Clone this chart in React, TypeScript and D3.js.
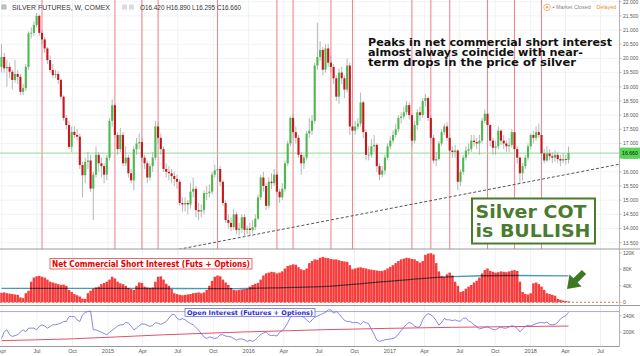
import React from "react";
import * as d3 from "d3";

// ---------- DATA ----------
const START = Date.UTC(2014, 2, 31); // first weekly candle (Mon)
const WEEK = 7 * 86400000;
const firstOpen = 19.7;

const closes = [
  20.05, 19.65, 19.7, 19.53, 19.24, 19.45, 19.35, 18.82, 18.95, 19.7,
  20.88, 20.9, 21.18, 21.5, 20.9, 20.67, 20.35, 19.94, 19.59, 19.41,
  19.45, 19.24, 18.65, 17.9, 17.65, 16.88, 17.41, 17.3, 17.24, 16.24,
  15.88, 16.35, 16.4, 15.41, 15.9, 16.6, 16.3, 16.2, 15.9, 16.5,
  17.8, 18.35, 17.3, 16.8, 17.3, 16.3, 16.5, 15.95, 15.7, 16.8,
  17.0, 17.05, 16.5, 16.3, 15.8, 16.2, 16.5, 17.6, 17.2, 16.8,
  16.1, 16.0, 15.95, 15.85, 15.75, 15.65, 14.9, 14.85, 14.9, 14.85,
  15.3, 15.4, 14.65, 14.6, 14.65, 15.25, 15.25, 15.3, 15.9, 16.05,
  16.1, 15.65, 14.9, 14.3, 14.2, 14.05, 14.5, 13.95, 14.0, 14.4,
  13.95, 14.0, 13.95, 14.05, 14.35, 15.1, 15.8, 15.5, 14.8, 15.65,
  15.6, 15.9, 15.3, 15.1, 15.4, 16.3, 17.0, 17.9, 17.4, 17.2,
  16.6, 16.3, 16.5, 17.35, 17.45, 17.8, 19.75, 20.05, 20.3, 19.6,
  20.35, 19.85, 19.7, 19.3, 18.65, 19.5, 19.3, 18.9, 19.75, 17.6,
  17.45, 17.6, 17.7, 18.45, 17.4, 16.6, 16.6, 16.9, 16.95, 16.2,
  15.9, 16.05, 16.5, 16.9, 17.1, 17.3, 17.5, 17.9, 17.95, 18.1,
  18.35, 18.0, 17.1, 17.65, 18.1, 18.0, 18.5, 18.6, 17.9, 17.2,
  16.4, 16.45, 17.0, 17.4, 17.6, 17.2, 16.75, 16.7, 16.75, 15.65,
  16.0, 16.5, 16.75, 16.8, 17.1, 17.05, 17.0, 17.1, 17.8, 18.05,
  17.65, 17.1, 16.85, 16.9, 17.45, 17.1, 17.0, 16.9, 16.95, 17.4,
  16.8, 16.5, 15.95, 16.2, 16.5, 16.9, 17.3, 17.2, 17.4, 17.3,
  16.65, 16.4, 16.65, 16.55, 16.5, 16.6, 16.45, 16.4, 16.45, 16.42,
  16.66,
];

const highs = [
  20.5, 20.2, 19.95, 19.85, 19.6, 19.95, 19.6, 19.45, 19.1, 19.8,
  20.95, 21.1, 21.3, 21.6, 21.55, 21.0, 20.75, 20.4, 20.1, 19.8,
  19.6, 19.55, 19.3, 18.7, 18.0, 17.8, 17.6, 17.6, 17.5, 17.35,
  16.35, 16.5, 16.7, 16.6, 16.0, 16.9, 16.7, 16.5, 16.3, 16.6,
  17.9, 18.55, 18.4, 17.4, 17.55, 17.4, 16.9, 16.6, 16.1, 16.9,
  17.2, 17.35, 17.2, 16.6, 16.4, 16.3, 16.7, 17.8, 17.75, 17.35,
  16.9, 16.3, 16.2, 16.1, 16.0, 15.9, 15.75, 15.1, 15.1, 15.0,
  15.6, 15.8, 15.5, 14.9, 14.85, 15.35, 15.5, 15.55, 16.0, 16.25,
  16.4, 16.2, 15.7, 15.0, 14.5, 14.4, 14.7, 14.6, 14.2, 14.5,
  14.5, 14.1, 14.2, 14.3, 14.5, 15.2, 15.9, 16.0, 15.6, 15.8,
  15.95, 16.1, 16.0, 15.4, 15.6, 16.4, 17.1, 17.95, 18.05, 17.6,
  17.3, 16.7, 16.6, 17.45, 17.9, 18.0, 19.85, 21.25, 20.6, 20.4,
  20.5, 20.5, 20.1, 19.8, 19.4, 19.65, 19.7, 19.4, 20.0, 19.85,
  17.7, 17.8, 17.9, 18.8, 18.5, 17.5, 16.9, 17.15, 17.3, 17.0,
  16.3, 16.2, 16.6, 17.0, 17.25, 17.45, 17.7, 18.0, 18.1, 18.3,
  18.5, 18.45, 18.05, 17.8, 18.2, 18.3, 18.6, 18.75, 18.65, 18.0,
  17.3, 16.7, 17.1, 17.5, 17.7, 17.75, 17.3, 16.9, 16.95, 16.8,
  16.1, 16.6, 16.9, 17.0, 17.3, 17.3, 17.2, 17.3, 17.9, 18.2,
  18.1, 17.7, 17.2, 17.1, 17.6, 17.5, 17.3, 17.1, 17.2, 17.5,
  17.45, 16.9, 16.55, 16.3, 16.6, 17.0, 17.35, 17.45, 17.6, 17.7,
  17.35, 16.8, 16.9, 16.8, 16.7, 16.75, 16.7, 16.6, 16.65, 16.6,
  16.89,
];

const lows = [
  19.5, 19.5, 19.0, 19.3, 18.9, 19.15, 19.1, 18.7, 18.7, 18.85,
  19.6, 20.7, 20.8, 21.1, 20.8, 20.5, 20.2, 19.8, 19.5, 19.3,
  19.3, 19.1, 18.55, 17.8, 17.5, 16.8, 16.7, 17.2, 17.1, 16.1,
  15.1, 15.6, 16.1, 15.3, 14.3, 15.8, 16.0, 15.8, 15.6, 15.7,
  16.4, 17.6, 17.2, 16.6, 16.7, 16.2, 16.2, 15.8, 15.6, 15.35,
  16.6, 16.8, 16.35, 16.1, 15.6, 15.7, 16.0, 16.4, 17.0, 16.6,
  16.0, 15.8, 15.7, 15.6, 15.5, 15.4, 14.8, 14.6, 14.6, 14.5,
  14.7, 15.1, 14.4, 14.3, 14.4, 14.5, 15.0, 15.1, 15.2, 15.8,
  15.9, 15.5, 14.8, 14.2, 14.0, 13.9, 13.95, 13.8, 13.75, 13.85,
  13.7, 13.8, 13.75, 13.85, 13.95, 14.3, 15.0, 15.3, 14.65, 14.7,
  15.4, 15.5, 15.2, 14.9, 15.0, 15.3, 16.2, 16.9, 17.2, 17.0,
  16.5, 15.9, 16.1, 16.4, 17.2, 17.3, 17.7, 19.6, 19.9, 19.4,
  19.5, 19.7, 19.5, 19.1, 18.5, 18.4, 19.1, 18.6, 18.8, 17.3,
  17.2, 17.3, 17.5, 17.6, 17.2, 16.4, 16.4, 16.5, 16.7, 16.0,
  15.7, 15.8, 15.9, 16.4, 16.8, 17.0, 17.2, 17.4, 17.7, 17.85,
  18.0, 17.85, 16.9, 17.0, 17.5, 17.8, 17.9, 18.3, 17.8, 17.0,
  16.3, 16.2, 16.4, 16.9, 17.3, 17.1, 16.6, 16.5, 16.5, 15.35,
  15.5, 15.9, 16.4, 16.6, 16.7, 16.9, 16.8, 16.6, 17.0, 17.7,
  17.5, 16.9, 16.6, 16.6, 16.8, 16.95, 16.8, 16.7, 16.7, 16.85,
  16.6, 16.3, 15.6, 15.7, 16.1, 16.4, 16.8, 17.0, 17.1, 17.2,
  16.5, 16.3, 16.35, 16.4, 16.3, 16.35, 16.3, 16.2, 16.3, 16.25,
  16.295,
];

// Net commercial short interest, thousands of contracts
const netShort = [
  23, 24, 22, 21, 20, 19, 18, 12, 10, 22,
  28, 50, 60, 63, 64, 62, 60, 55, 50, 48,
  46, 44, 42, 43, 40, 30, 25, 20, 17, 14,
  9, 8, 22, 28, 33, 36, 38, 44, 47, 50,
  55, 62, 58, 50, 46, 44, 40, 35, 32, 30,
  40, 48, 47, 38, 36, 35, 36, 50, 62, 63,
  55, 45, 40, 32, 22, 20, 18, 17, 18, 19,
  20, 22, 23, 24, 22, 24, 30, 40, 52, 62,
  65, 63, 55, 48, 42, 35, 30, 29, 30, 31,
  32, 33, 38, 42, 45, 47, 55, 65, 70, 72,
  74, 73, 70, 72, 75, 82, 88, 90, 92, 91,
  85, 80, 78, 82, 95, 100, 104, 103, 108, 110,
  108, 107, 105, 104, 104, 102, 100, 99, 98, 90,
  80, 82, 84, 85, 83, 82, 80, 79, 78, 77,
  76, 76, 78, 82, 86, 90, 95, 100, 104, 106,
  108, 107, 105, 104, 100, 96, 100, 115, 118, 119,
  116, 95, 75, 64, 62, 68, 72, 65, 50, 40,
  25, 27, 33, 38, 42, 48, 52, 60, 70, 78,
  82, 76, 74, 72, 73, 75, 74, 73, 75, 77,
  78, 76, 50, 25, 20, 19, 22, 46, 48, 44,
  38, 30, 22, 20, 18, 16, 8, 6, 4, 3,
  2,
];

// Open interest (futures + options), thousands
const openInterest = [
  185, 201, 206, 194, 190, 192, 194, 201, 206, 201,
  210, 210, 210, 206, 214, 218, 215, 210, 214, 218,
  218, 220, 222, 226, 226, 238, 238, 238, 230, 226,
  242, 248, 250, 251, 206, 206, 203, 200, 197, 194,
  200, 205, 210, 215, 218, 218, 224, 222, 215, 206,
  210, 216, 220, 220, 217, 214, 217, 223, 222, 219,
  222, 226, 234, 242, 243, 234, 230, 233, 230, 225,
  221, 218, 212, 205, 197, 189, 185, 189, 187, 185,
  187, 194, 194, 191, 190, 189, 185, 181, 184, 184,
  182, 178, 181, 178, 182, 188, 195, 198, 201, 194,
  192, 193, 191, 200, 204, 212, 223, 236, 242, 239,
  240, 240, 236, 230, 224, 229, 236, 239, 242, 245,
  248, 254, 254, 246, 250, 245, 236, 229, 226, 226,
  223, 224, 223, 219, 226, 223, 221, 207, 195, 181,
  178, 180, 182, 183, 184, 185, 188, 196, 204, 212,
  219, 224, 221, 215, 212, 214, 230, 240, 245, 242,
  237, 228, 217, 224, 233, 230, 230, 228, 230, 227,
  227, 234, 234, 228, 224, 218, 214, 208, 210, 212,
  213, 210, 207, 206, 210, 213, 210, 210, 213, 216,
  214, 209, 201, 208, 214, 217, 215, 218, 221, 223,
  224, 222, 225, 219, 218, 219, 224, 232, 237, 240,
  248,
];

const netMaWeeks = [0, 40, 85, 100, 118, 142, 167, 190, 210];
const netMa = [34, 34, 33, 35, 38, 50, 62, 65, 64];
const oiMaWeeks = [0, 25, 60, 118, 167, 210];
const oiMa = [180, 184, 194, 206, 212, 215];
const oiLevel = 250;

const peakWeeks = [15, 42, 52, 58, 80, 102, 108, 122, 130, 152, 159, 166, 180, 190, 200];
const trendWeeks = [62, 229];
const trendPrices = [13.2, 16.27];

const priceTicks = [22, 21.5, 21, 20.5, 20, 19.5, 19, 18.5, 18, 17.5, 17, 16.5, 16, 15.5, 15, 14.5, 14, 13.5];
const netTicks = [120, 80, 40, 0];
const netTickLabels = ["120K", "80K", "40K", "0"];
const oiTicks = [240, 200];
const oiTickLabels = ["240K", "200K"];
const lastPrice = 16.66;
const ohlcText = "O16.420 H16.890 L16.295 C16.660";
const noteLines = [
  "Peaks in net commercial short interest",
  "almost always coincide with near-",
  "term drops in the price of silver",
];

export default function App() {
  const W = 640, H = 356;
  const axisX = 619.5;
  const priceBottom = 249;
  const netBottom = 305.5;
  const oiBottom = 346.5;

  const x = d3.scaleUtc()
    .domain([new Date(START), new Date(START + 210 * WEEK)])
    .range([1.5, 568.5]);
  const xi = (i: number) => x(new Date(START + i * WEEK));
  const yP = d3.scaleLinear().domain([13.5, 22]).range([242.7, 1.7]);
  const yN = d3.scaleLinear().domain([0, 120]).range([302.3, 252.8]);
  const yO = d3.scaleLinear().domain([200, 240]).range([332.3, 315.7]);

  const n = Math.min(closes.length, highs.length, lows.length);
  const opens = closes.map((c, i) => (i === 0 ? firstOpen : closes[i - 1]));

  const months = d3.utcMonth.every(3)!.range(new Date(Date.UTC(2014, 3, 1)), new Date(Date.UTC(2018, 7, 1)));
  const fmtMonth = d3.utcFormat("%b");

  const netMaLine = d3.line<number>().x((_, k) => xi(netMaWeeks[k])).y((v) => yN(v)).curve(d3.curveMonotoneX)(netMa) || "";
  const oiLine = d3.line<number>().x((_, k) => xi(k)).y((v) => yO(v))(openInterest) || "";
  const oiMaLine = d3.line<number>().x((_, k) => xi(oiMaWeeks[k])).y((v) => yO(v)).curve(d3.curveMonotoneX)(oiMa) || "";

  const green = "#4cbb4c";
  const red = "#c8161d";
  const cotGreen = "#4a7c2f";
  const font = "'Liberation Sans', Arial, sans-serif";
  const boldFont = "'DejaVu Sans', Verdana, sans-serif";

  return (
    <svg width={W} height={H} viewBox={`0 0 ${W} ${H}`}
      style={{ position: "fixed", left: 0, top: 0, background: "#fff" }}>
      <defs>
        <clipPath id="pricePane"><rect x={0} y={0} width={axisX} height={priceBottom} /></clipPath>
        <clipPath id="lowerPane"><rect x={0} y={priceBottom} width={axisX} height={oiBottom - priceBottom} /></clipPath>
      </defs>
      <rect x={0} y={0} width={W} height={H} fill="#fff" />

      {/* vertical grid */}
      {months.map((m, k) => (
        <line key={"vg" + k} x1={x(m)} x2={x(m)} y1={0} y2={oiBottom} stroke="#eef1f4" strokeWidth={1} />
      ))}
      {/* horizontal price grid */}
      {priceTicks.map((p, k) => (
        <line key={"hg" + k} x1={0} x2={axisX} y1={yP(p)} y2={yP(p)} stroke="#f1f3f5" strokeWidth={1} />
      ))}

      {/* peak markers */}
      <g clipPath="url(#pricePane)">
        {peakWeeks.map((w, k) => (
          <line key={"pk" + k} x1={xi(w)} x2={xi(w)} y1={0} y2={priceBottom} stroke="#ee7d85" strokeWidth={1.1} opacity={0.9} />
        ))}
        {/* last price line */}
        <line x1={0} x2={axisX} y1={yP(lastPrice)} y2={yP(lastPrice)} stroke="#8fdc8f" strokeWidth={1} />
        {/* trend line */}
        <line x1={xi(trendWeeks[0])} y1={yP(trendPrices[0])} x2={xi(trendWeeks[1])} y2={yP(trendPrices[1])}
          stroke="#555" strokeWidth={1} strokeDasharray="3,2" />
        {/* candles */}
        {closes.slice(0, n).map((c, i) => {
          const o = opens[i];
          const up = c >= o;
          const col = up ? green : red;
          const top = yP(Math.max(o, c));
          const h = Math.max(0.8, Math.abs(yP(o) - yP(c)));
          return (
            <g key={"c" + i}>
              <line x1={xi(i)} x2={xi(i)} y1={yP(highs[i])} y2={yP(lows[i])} stroke="#a4a4a4" strokeWidth={0.8} />
              <rect x={xi(i) - 1.05} y={top} width={2.1} height={h} fill={col} />
            </g>
          );
        })}
      </g>

      {/* pane borders */}
      <line x1={0} x2={W} y1={priceBottom} y2={priceBottom} stroke="#9a9a9a" strokeWidth={1} />
      <line x1={0} x2={W} y1={netBottom} y2={netBottom} stroke="#9a9a9a" strokeWidth={1} />
      <line x1={0} x2={axisX} y1={oiBottom} y2={oiBottom} stroke="#9a9a9a" strokeWidth={1} />
      <line x1={axisX} x2={axisX} y1={0} y2={oiBottom} stroke="#b4b4b4" strokeWidth={1} />

      {/* net short panel */}
      <g clipPath="url(#lowerPane)">
        <line x1={0} x2={axisX} y1={yN(0)} y2={yN(0)} stroke="#b08a70" strokeWidth={1} strokeDasharray="2,2" />
        {netShort.map((v, i) => (
          <rect key={"n" + i} x={xi(i) - 1.25} y={yN(v)} width={2.5} height={yN(0) - yN(v)} fill="#f83c3c" />
        ))}
        <path d={netMaLine} fill="none" stroke="#4a98b4" strokeWidth={1.3} style={{ mixBlendMode: "multiply" }} />

        {/* OI panel */}
        <line x1={0} x2={axisX} y1={yO(oiLevel)} y2={yO(oiLevel)} stroke="#a9a9e6" strokeWidth={1} />
        <path d={oiMaLine} fill="none" stroke="#e4506c" strokeWidth={1} />
        <path d={oiLine} fill="none" stroke="#6a6ae0" strokeWidth={0.8} />
      </g>

      {/* lower panel labels */}
      <rect x={50} y={258.5} width={202} height={10.5} fill="#fff" stroke="#e34848" strokeWidth={0.8} />
      <text x={52} y={266.8} fontFamily={boldFont} fontWeight="bold" fontSize={8.4} fill="#e60000"
        textLength={198} lengthAdjust="spacingAndGlyphs">Net Commercial Short Interest (Futs + Options)</text>
      <rect x={185} y={308.5} width={130} height={7.8} fill="#fff" stroke="#5555e0" strokeWidth={0.7} />
      <text x={187} y={314.8} fontFamily={boldFont} fontWeight="bold" fontSize={6.4} fill="#2b2bd0"
        textLength={126} lengthAdjust="spacingAndGlyphs">Open Interest (Futures + Options)</text>

      {/* green arrow */}
      <polygon points="0,-3 12,-3 12,-8.5 24,0 12,8.5 12,3 0,3" fill="#3d7a1f"
        transform="translate(584,272) rotate(135)" />

      {/* price axis */}
      {priceTicks.map((p, k) => (
        <g key={"pt" + k}>
          <line x1={axisX} x2={axisX + 2} y1={yP(p)} y2={yP(p)} stroke="#999" strokeWidth={0.6} />
          <text x={623} y={yP(p) + 1.8} fontFamily={font} fontSize={5} fill="#555">{d3.format(".3f")(p)}</text>
        </g>
      ))}
      <rect x={620} y={yP(lastPrice) - 5.5} width={20} height={11} fill="#55d655" />
      <text x={622} y={yP(lastPrice) + 1.9} fontFamily={font} fontSize={5.2} fill="#111">{d3.format(".3f")(lastPrice)}</text>

      {netTicks.map((v, k) => (
        <g key={"nt" + k}>
          <line x1={axisX} x2={axisX + 2} y1={yN(v)} y2={yN(v)} stroke="#999" strokeWidth={0.6} />
          <text x={623} y={yN(v) + 1.8} fontFamily={font} fontSize={5} fill="#555">{netTickLabels[k]}</text>
        </g>
      ))}
      {oiTicks.map((v, k) => (
        <g key={"ot" + k}>
          <line x1={axisX} x2={axisX + 2} y1={yO(v)} y2={yO(v)} stroke="#999" strokeWidth={0.6} />
          <text x={623} y={yO(v) + 1.8} fontFamily={font} fontSize={5} fill="#555">{oiTickLabels[k]}</text>
        </g>
      ))}

      {/* time axis */}
      {months.map((m, k) => (
        <text key={"tl" + k} x={x(m)} y={352.5} textAnchor="middle" fontFamily={font} fontSize={5.5} fill="#555">
          {m.getUTCMonth() === 0 ? String(m.getUTCFullYear()) : fmtMonth(m)}
        </text>
      ))}

      {/* header */}
      <rect x={2} y={5} width={4} height={4} fill="none" stroke="#777" strokeWidth={0.6} />
      <line x1={4} x2={4} y1={5} y2={9} stroke="#777" strokeWidth={0.5} />
      <line x1={2} x2={6} y1={7} y2={7} stroke="#777" strokeWidth={0.5} />
      <text x={12} y={9.6} fontFamily={font} fontSize={7} fill="#333" textLength={98} lengthAdjust="spacingAndGlyphs">SILVER FUTURES, W, COMEX</text>
      <rect x={122} y={4.5} width={5} height={5} fill="#dcdcdc" />
      <rect x={129} y={4.5} width={5} height={5} fill="#dcdcdc" />
      <text x={140} y={9.6} fontFamily={font} fontSize={6.8} fill="#333" textLength={101} lengthAdjust="spacingAndGlyphs">{ohlcText}</text>

      <circle cx={547} cy={7.3} r={3.3} fill="none" stroke="#f0a860" strokeWidth={0.8} />
      <circle cx={547} cy={7.3} r={1.2} fill="#f0a860" />
      <circle cx={553.5} cy={7.3} r={0.9} fill="#888" />
      <text x={556} y={9.2} fontFamily={font} fontSize={5.4} fill="#888">Market Closed</text>
      <text x={596.5} y={9.2} fontFamily={font} fontSize={5.4} fill="#f28c38">Delayed</text>

      {/* annotation */}
      {noteLines.map((t, k) => (
        <text key={"nl" + k} x={368} y={45.5 + k * 10.3} fontFamily={boldFont} fontWeight="bold" fontSize={11} fill="#111"
          textLength={[244, 215, 208][k]} lengthAdjust="spacingAndGlyphs">{t}</text>
      ))}

      <rect x={472} y={198.5} width={123} height={45} fill="#fff" stroke={cotGreen} strokeWidth={2} />
      <text x={475.5} y={217.5} fontFamily={boldFont} fontWeight="bold" fontSize={17.5} fill={cotGreen}
        textLength={111} lengthAdjust="spacingAndGlyphs">Silver COT</text>
      <text x={475.5} y={236.8} fontFamily={boldFont} fontWeight="bold" fontSize={17.5} fill={cotGreen}
        textLength={115} lengthAdjust="spacingAndGlyphs">is BULLISH</text>
    </svg>
  );
}
